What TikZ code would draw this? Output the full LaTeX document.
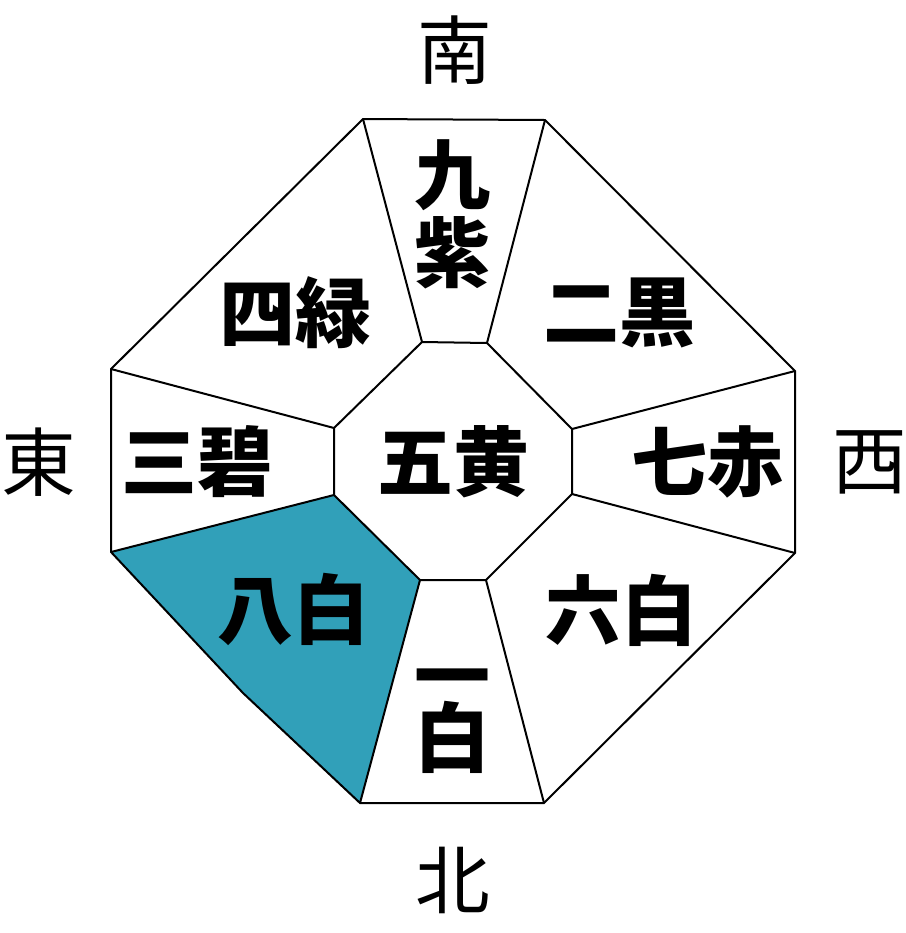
\documentclass[tikz,border=0pt]{standalone}
\usepackage{fontspec}
\usepackage{xcolor}
\usepackage{tikz}
\newfontfamily\jp{Noto Sans CJK JP}
\definecolor{eightwhite}{RGB}{49,160,185}
\tikzset{
  star/.style={font=\jp\bfseries\fontsize{57}{57}\selectfont, inner sep=0pt},
  dir/.style={font=\jp\fontsize{56}{56}\selectfont, inner sep=0pt},
  edge/.style={draw=black, line width=1.5pt, line join=miter}
}

\begin{document}
\begin{tikzpicture}[x=0.75pt, y=-0.75pt]
  \useasboundingbox (0,0) rectangle (906,933);
  % outer ring
  \coordinate (o1) at (363,119); \coordinate (o2) at (545,120);
  \coordinate (o3) at (795,371); \coordinate (o4) at (795,553);
  \coordinate (o5) at (544,803); \coordinate (o6) at (360,803);
  \coordinate (o7) at (111,552); \coordinate (o8) at (111,369);
  \coordinate (ob) at (243,693);
  % inner ring
  \coordinate (i1) at (422,342); \coordinate (i2) at (487,343);
  \coordinate (i3) at (572,429); \coordinate (i4) at (572,494);
  \coordinate (i5) at (486,580); \coordinate (i6) at (420,580);
  \coordinate (i7) at (334,495); \coordinate (i8) at (334,428);

  \fill[eightwhite] (i7) -- (o7) -- (ob) -- (o6) -- (i6) -- cycle;
  \draw[edge] (o1) -- (o2) -- (o3) -- (o4) -- (o5) -- (o6) -- (ob) -- (o7) -- (o8) -- cycle;
  \draw[edge] (i1) -- (i2) -- (i3) -- (i4) -- (i5) -- (i6) -- (i7) -- (i8) -- cycle;
  \foreach \k in {1,...,8} \draw[edge] (i\k) -- (o\k);

  \node[star] (c5) at (453,462) {五黄};
  \node[star] (c9a) at (452,175) {九};
  \node[star] (c9b) at (452,253) {紫};
  \node[star] (c2) at (619,313) {二黒};
  \node[star] (c4) at (295,313) {四緑};
  \node[star] (c3) at (197,462) {三碧};
  \node[star] (c7) at (707,462) {七赤};
  \node[star] (c8) at (293,609) {八白};
  \node[star] (c6) at (621,610) {六白};
  \node[star] (c1a) at (452,687) {一};
  \node[star] (c1b) at (452,737) {白};

  \node[dir] (south) at (455,50) {南};
  \node[dir] (north) at (453,880) {北};
  \node[dir] (east) at (39,462) {東};
  \node[dir] (west) at (870,462) {西};
\end{tikzpicture}
\end{document}
